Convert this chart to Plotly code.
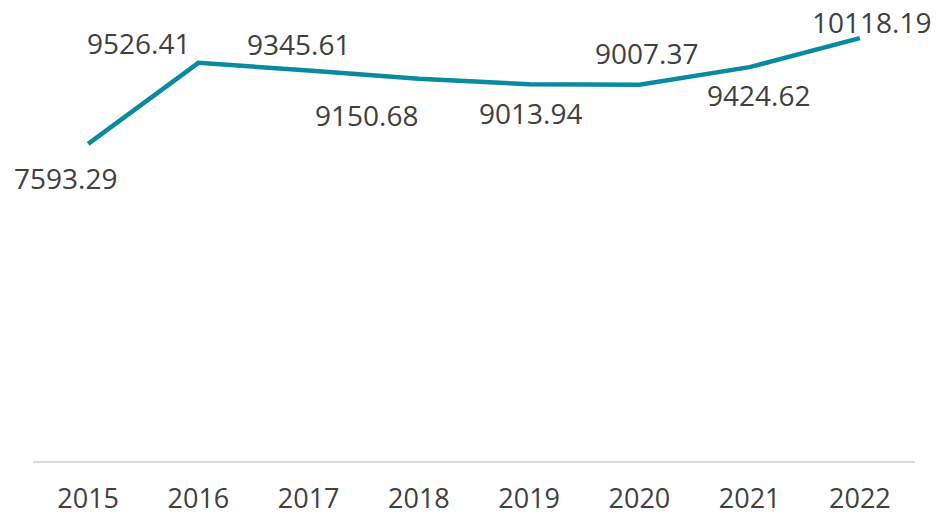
import plotly.graph_objects as go

years = ["2015", "2016", "2017", "2018", "2019", "2020", "2021", "2022"]
values = [7593.29, 9526.41, 9345.61, 9150.68, 9013.94, 9007.37, 9424.62, 10118.19]
labels = ["7593.29", "9526.41", "9345.61", "9150.68", "9013.94", "9007.37", "9424.62", "10118.19"]

# label offsets (px) relative to each point: (xshift, yshift)
label_offsets = [(-23, -34), (-60, 20), (-10, 26), (-52, -36), (1, -29), (7, 32), (9, -28), (12, 16)]

LINE_COLOR = "#0A8A9F"
TEXT_COLOR = "#404040"
FONT = "Open Sans"

fig = go.Figure()
fig.add_trace(go.Scatter(
    x=years, y=values, mode="lines",
    line=dict(color=LINE_COLOR, width=4.5),
    hoverinfo="skip", showlegend=False,
))

# category axis: annotations are placed by category index
for i, (v, lab, (dx, dy)) in enumerate(zip(values, labels, label_offsets)):
    fig.add_annotation(
        x=i, y=v, xref="x", yref="y", text=lab, showarrow=False,
        xshift=dx, yshift=dy, xanchor="center", yanchor="middle",
        font=dict(family=FONT, size=28, color=TEXT_COLOR),
    )

fig.update_layout(
    width=938, height=515,
    margin=dict(l=33, r=23, t=20, b=53, autoexpand=False),
    paper_bgcolor="white", plot_bgcolor="white",
    xaxis=dict(
        type="category", showgrid=False, zeroline=False,
        showline=False, ticks="outside", ticklen=13,
        tickcolor="rgba(0,0,0,0)", automargin=False,
        tickfont=dict(family=FONT, size=27, color=TEXT_COLOR),
        range=[-0.5, 7.5],
    ),
    yaxis=dict(
        range=[0, 10550], showgrid=False, showticklabels=False,
        zeroline=True, zerolinecolor="#D9D9D9", zerolinewidth=2,
        showline=False, automargin=False,
    ),
)

fig.write_html(
    "out.html",
    config={"displayModeBar": False},
    post_script="document.body.style.margin='0';document.body.style.overflow='hidden';",
)
